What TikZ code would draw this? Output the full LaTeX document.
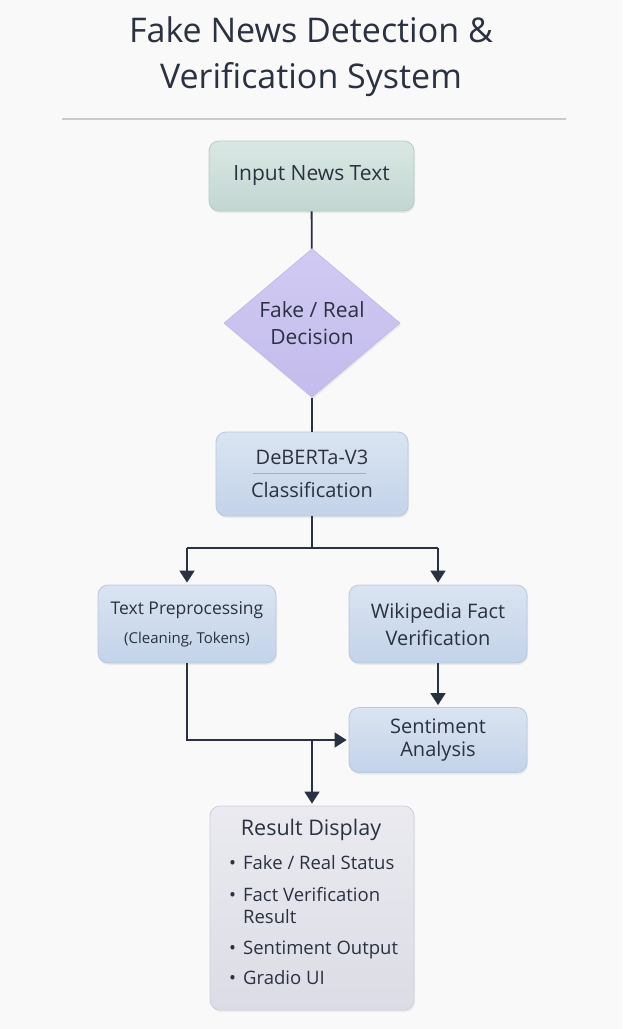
\documentclass[tikz,border=0pt]{standalone}
\usepackage{fontspec}
\setmainfont{Open Sans}
\usepackage{tikz}
\usetikzlibrary{shapes,arrows,arrows.meta,positioning,calc,shadows}

\definecolor{inkc}{HTML}{2A3140}
\definecolor{bgc}{HTML}{F9F9FA}
\definecolor{rulec}{HTML}{C8CACF}
\definecolor{inptop}{HTML}{DAE8E4}
\definecolor{inpbot}{HTML}{C2D6D1}
\definecolor{inpline}{HTML}{B6CAC4}
\definecolor{dectop}{HTML}{D0CAF3}
\definecolor{decbot}{HTML}{C3BCEC}
\definecolor{bluetop}{HTML}{DAE4F1}
\definecolor{bluebot}{HTML}{C3D3E9}
\definecolor{blueline}{HTML}{B8C8DE}
\definecolor{restop}{HTML}{EAEAF0}
\definecolor{resbot}{HTML}{DCDCE6}
\definecolor{resline}{HTML}{CFCFDA}
\definecolor{sepc}{HTML}{A3AFC2}

\tikzset{
	card/.style={rounded corners=10pt, draw=blueline, line width=0.8pt,
		top color=bluetop, bottom color=bluebot, text=inkc, align=center,
		drop shadow={opacity=0.12, shadow xshift=1pt, shadow yshift=-2pt}},
	inbox/.style={card, draw=inpline, top color=inptop, bottom color=inpbot},
	decbox/.style={diamond, draw=decbot, line width=0.8pt, top color=dectop,
		bottom color=decbot, text=inkc, align=center, inner sep=0pt,
		drop shadow={opacity=0.12, shadow xshift=1pt, shadow yshift=-2pt}},
	resbox/.style={card, draw=resline, top color=restop, bottom color=resbot},
	link/.style={draw=inkc, line width=1.8pt},
	arr/.style={link, -{Triangle[width=15pt,length=12pt]}, shorten >=2pt}
}

\begin{document}
\begin{tikzpicture}[x=1pt,y=-1pt]
		% page
		\fill[bgc] (0,0) rectangle (622,1029);
		\useasboundingbox (0,0) rectangle (622,1029);
		% title
		\node[text=inkc, font=\fontsize{34}{46}\selectfont, align=center] (title) at (311,57)
			{Fake News Detection \&\\Verification System};
		\draw[rulec, line width=1.2pt] (62,119) -- (566,119);
		% boxes
		\node[inbox, minimum width=205pt, minimum height=70pt,
			font=\fontsize{21}{24}\selectfont] (inp) at (311.5,176) {Input News Text};
		\node[decbox, minimum width=176pt, minimum height=148pt,
			font=\fontsize{21}{27}\selectfont] (dec) at (312,323) {Fake / Real\\Decision};
		\node[card, minimum width=192pt, minimum height=84pt,
			font=\fontsize{20}{33}\selectfont] (deb) at (312,474) {DeBERTa-V3\\Classification};
		\node[card, minimum width=178pt, minimum height=78pt,
			font=\fontsize{17.5}{29}\selectfont] (pre) at (187,624)
			{Text Preprocessing\\{\fontsize{15}{29}\selectfont (Cleaning, Tokens)}};
		\node[card, minimum width=178pt, minimum height=78pt,
			font=\fontsize{20}{27}\selectfont] (wiki) at (438,624) {Wikipedia Fact\\Verification};
		\node[card, minimum width=178pt, minimum height=65pt,
			font=\fontsize{20}{23}\selectfont] (sent) at (438,740) {Sentiment\\Analysis};
		\node[resbox, minimum width=204pt, minimum height=204pt] (res) at (312,908) {};
		\node[text=inkc, font=\fontsize{21.5}{24}\selectfont] (restitle) at (311,830) {Result Display};
		\node[text=inkc, anchor=base west, inner sep=0pt, font=\fontsize{18.5}{22}\selectfont] (reslist) at (229,869)
			{\begin{tabular}[t]{@{}c@{\hspace{7pt}}l@{}}
				\textbullet & Fake / Real Status\\[10pt]
				\textbullet & Fact Verification\\
				 & Result\\[9pt]
				\textbullet & Sentiment Output\\[8pt]
				\textbullet & Gradio UI
			\end{tabular}};
		% separator in classifier box
		\coordinate (sepl) at (253,473);
		\coordinate (sepr) at (366,473);
		\draw[sepc, line width=0.6pt] (sepl) -- (sepr);
		% connectors
		\coordinate (brm) at (312,548);
		\coordinate (brl) at (187,548);
		\coordinate (brr) at (438,548);
		\coordinate (jn) at (312,740);
		\draw[link] (inp) -- (dec);
		\draw[link] (dec) -- (deb);
		\draw[link] (deb) -- (brm);
		\draw[link] (brl) -- (brr);
		\draw[arr] (brl) -- (pre);
		\draw[arr] (brr) -- (wiki);
		\draw[arr] (wiki) -- (sent);
		\draw[arr] (pre.south) |- (sent.west);
		\draw[arr] (jn) -- (res);
		\end{tikzpicture}
\end{document}
